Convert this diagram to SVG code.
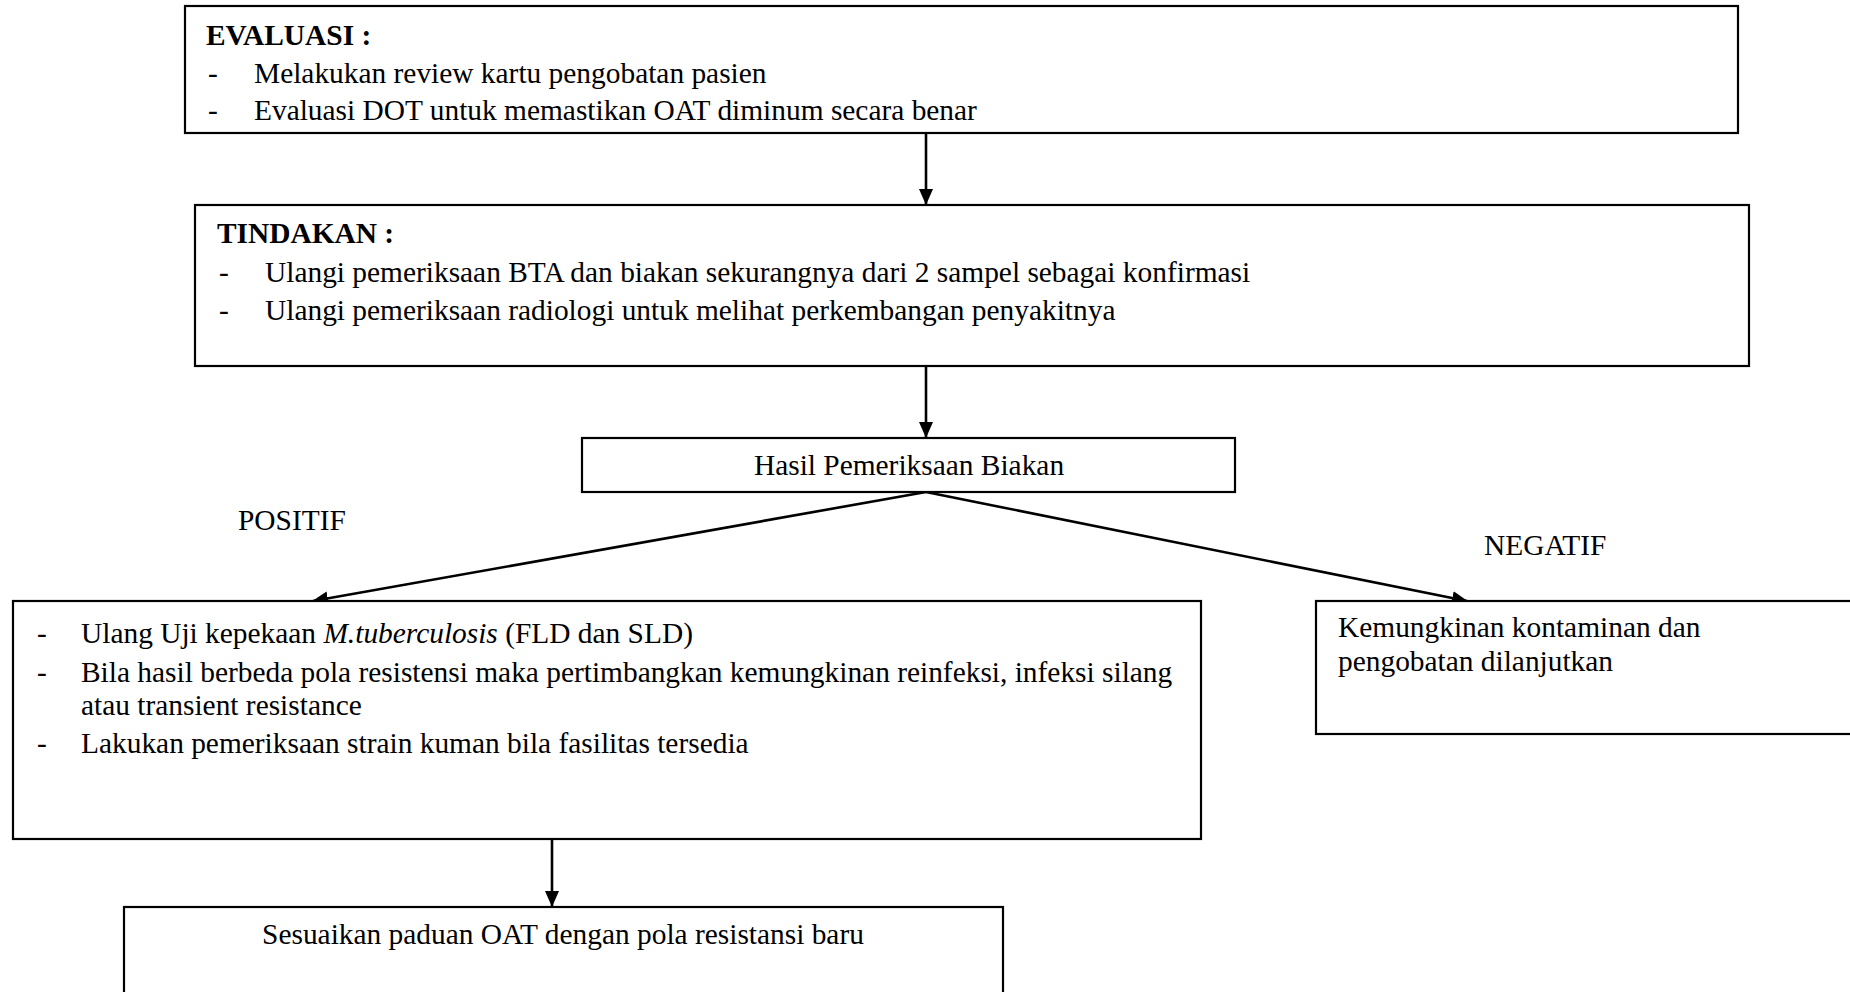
<svg xmlns="http://www.w3.org/2000/svg" width="1850" height="992" viewBox="0 0 1850 992">
<defs>
<style>
.box{fill:#fff;stroke:#000;stroke-width:2.2}
.t{font-family:"Liberation Serif","Times New Roman",serif;font-size:29.4px;fill:#000}
.b{font-weight:bold}
.c{text-anchor:middle}
.ln{stroke:#000;stroke-width:2.6;fill:none}
</style>
<marker id="ah" viewBox="0 0 16 14" refX="15" refY="7" markerWidth="16" markerHeight="14" markerUnits="userSpaceOnUse" orient="auto">
<path d="M0,0 L16,7 L0,14 Z" fill="#000"/>
</marker>
</defs>
<rect width="1850" height="992" fill="#fff"/>
<g id="connectors">
<line class="ln" x1="926" y1="133" x2="926" y2="204" marker-end="url(#ah)"/>
<line class="ln" x1="926" y1="366" x2="926" y2="437" marker-end="url(#ah)"/>
<line class="ln" x1="926" y1="492" x2="313" y2="601" marker-end="url(#ah)"/>
<line class="ln" x1="926" y1="492" x2="1467" y2="601" marker-end="url(#ah)"/>
<line class="ln" x1="552" y1="839" x2="552" y2="906" marker-end="url(#ah)"/>
</g>
<g id="evaluasi">
<rect class="box" x="185" y="6" width="1553" height="127"/>
<text class="t b" x="206" y="45">EVALUASI :</text>
<text class="t" x="208" y="83">-</text>
<text class="t" x="254" y="83">Melakukan review kartu pengobatan pasien</text>
<text class="t" x="208" y="120">-</text>
<text class="t" x="254" y="120">Evaluasi DOT untuk memastikan OAT diminum secara benar</text>
</g>
<g id="tindakan">
<rect class="box" x="195" y="205" width="1554" height="161"/>
<text class="t b" x="217" y="243">TINDAKAN :</text>
<text class="t" x="219" y="282">-</text>
<text class="t" x="265" y="282">Ulangi pemeriksaan BTA dan biakan sekurangnya dari 2 sampel sebagai konfirmasi</text>
<text class="t" x="219" y="320">-</text>
<text class="t" x="265" y="320">Ulangi pemeriksaan radiologi untuk melihat perkembangan penyakitnya</text>
</g>
<g id="hasil">
<rect class="box" x="582" y="438" width="653" height="54"/>
<text class="t c" x="909" y="475">Hasil Pemeriksaan Biakan</text>
</g>
<g id="label-positif">
<text class="t" x="238" y="530">POSITIF</text>
</g>
<g id="label-negatif">
<text class="t" x="1484" y="555">NEGATIF</text>
</g>
<g id="positif-box">
<rect class="box" x="13" y="601" width="1188" height="238"/>
<text class="t" x="37" y="643">-</text>
<text class="t" x="81" y="643">Ulang Uji kepekaan <tspan font-style="italic">M.tuberculosis</tspan> (FLD dan SLD)</text>
<text class="t" x="37" y="682">-</text>
<text class="t" x="81" y="682">Bila hasil berbeda pola resistensi maka pertimbangkan kemungkinan reinfeksi, infeksi silang</text>
<text class="t" x="81" y="715">atau transient resistance</text>
<text class="t" x="37" y="753">-</text>
<text class="t" x="81" y="753">Lakukan pemeriksaan strain kuman bila fasilitas tersedia</text>
</g>
<g id="negatif-box">
<rect class="box" x="1316" y="601" width="545" height="133"/>
<text class="t" x="1338" y="637">Kemungkinan kontaminan dan</text>
<text class="t" x="1338" y="671">pengobatan dilanjutkan</text>
</g>
<g id="sesuaikan">
<rect class="box" x="124" y="907" width="879" height="100"/>
<text class="t c" x="563" y="944">Sesuaikan paduan OAT dengan pola resistansi baru</text>
</g>
</svg>
